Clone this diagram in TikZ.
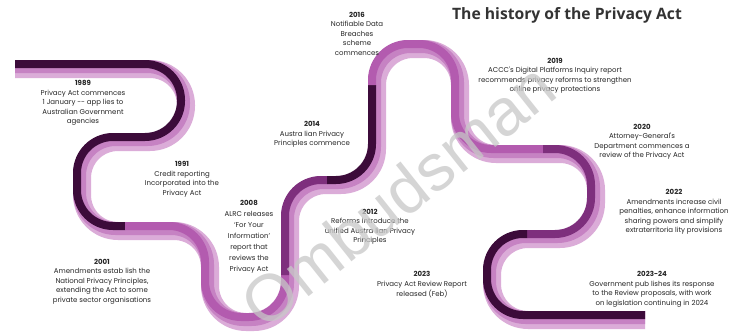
\documentclass[tikz,border=0pt]{standalone}
\usepackage{fontspec}
\newfontfamily\lblfont{Poppins}
\newfontfamily\titlefont{Open Sans}
\newfontfamily\wmfont{Liberation Sans}
\definecolor{ribdark}{HTML}{3C0B3A}
\definecolor{ribmed}{HTML}{7E2F7D}
\definecolor{ribpink}{HTML}{B35BAF}
\definecolor{ribmid}{HTML}{C682C3}
\definecolor{riblight}{HTML}{DBACD8}
\definecolor{txtgray}{HTML}{262626}
\definecolor{ttlgray}{HTML}{333333}
\def\fullpath{(10,69) -- (186,69) -- (186,142) -- (82,142) -- (82,231) -- (210,231) -- (210,322) -- (290,322) -- (290,185) -- (377,185) -- (377,49) -- (460,49) -- (460,154) -- (596,154) -- (596,239) -- (492,239) -- (492,320) -- (655,320)}
\def\segA{(10,69) -- (186,69) -- (186,142) -- (82,142) -- (82,231) -- (130,231)}
\def\segB{(130,231) -- (210,231) -- (210,322) -- (290,322) -- (290,280)}
\def\segC{(290,280) -- (290,185) -- (332,185)}
\def\segD{(332,185) -- (377,185) -- (377,90)}
\def\segE{(377,90) -- (377,49) -- (460,49) -- (460,154) -- (548,154)}
\def\segF{(548,154) -- (596,154) -- (596,239) -- (532,239)}
\def\segG{(532,239) -- (492,239) -- (492,320) -- (655,320)}
\newcommand\yr[1]{\textbf{#1}}
\begin{document}
\begin{tikzpicture}[x=1pt,y=-1pt,
  rib/.style={rounded corners=36pt, line cap=butt, line join=round},
  lbl/.style={align=center, text=txtgray, inner sep=0pt, font={\lblfont\fontsize{7}{9.5}\selectfont}},
  ttl/.style={text=ttlgray, inner sep=0pt, font={\titlefont\bfseries\fontsize{15.7}{18}\selectfont}},
  wm/.style={text=black!22, inner sep=0pt, opacity=0.75, font={\wmfont\fontsize{66}{70}\selectfont}}]
\useasboundingbox (0,0) rectangle (751,332);
\fill[white] (0,0) rectangle (751,332);
\begin{scope}
  \clip (15,0) rectangle (645,332);
  \draw[rib, line width=18pt, color=riblight] \fullpath;
  \begin{scope}[shift={(-2.5,-2.5)}]
    \draw[rib, line width=13pt, color=ribmid] \fullpath;
  \end{scope}
  \begin{scope}[shift={(-5,-5)}]
    \draw[rib, line width=8pt, color=ribdark] \segA;
    \draw[rib, line width=8pt, color=ribpink] \segB;
    \draw[rib, line width=8pt, color=ribmed] \segC;
    \draw[rib, line width=8pt, color=ribdark] \segD;
    \draw[rib, line width=8pt, color=ribpink] \segE;
    \draw[rib, line width=8pt, color=ribmed] \segF;
    \draw[rib, line width=8pt, color=ribdark] \segG;
  \end{scope}
\end{scope}
\node[ttl] (title) at (567,15) {The history of the Privacy Act};
\node[lbl] (t1989) at (83,103) {\yr{1989}\\Privacy Act commences\\1 January -- app lies to\\Australian Government\\agencies};
\node[lbl] (t1991) at (182,179.5) {\yr{1991}\\Credit reporting\\Incorporated into the\\Privacy Act};
\node[lbl] (t2001) at (102,281.5) {\yr{2001}\\Amendments estab lish the\\National Privacy Principles,\\extending the Act to some\\private sector organisations};
\node[lbl, font={\lblfont\fontsize{7}{11}\selectfont}] (t2008) at (249,237) {\yr{2008}\\ALRC releases\\‘For Your\\Information’\\report that\\reviews the\\Privacy Act};
\node[lbl] (t2012) at (370,227) {\yr{2012}\\Reforms introduce the\\unified Austra lian Privacy\\Principles};
\node[lbl] (t2014) at (312,134.5) {\yr{2014}\\Austra lian Privacy\\Principles commence};
\node[lbl] (t2016) at (357,33.5) {\yr{2016}\\Notifiable Data\\Breaches\\scheme\\commences};
\node[lbl] (t2019) at (555,76) {\yr{2019}\\ACCC's Digital Platforms Inquiry report\\recommends privacy reforms to strengthen\\online privacy protections};
\node[lbl] (t2020) at (642,142) {\yr{2020}\\Attorney-General's\\Department commences a\\review of the Privacy Act};
\node[lbl] (t2022) at (674,212) {\yr{2022}\\Amendments increase civil\\penalties, enhance information\\sharing powers and simplify\\extraterritoria lity provisions};
\node[lbl, font={\lblfont\fontsize{7}{10}\selectfont}] (t2023) at (422,285) {\yr{2023}\\Privacy Act Review Report\\released (Feb)};
\node[lbl] (t2324) at (652,289.5) {\yr{2023-24}\\Government pub lishes its response\\to the Review proposals, with work\\on legislation continuing in 2024};
\node[wm, rotate=38.5] (wmark) at (398,195) {Ombudsman};
\end{tikzpicture}
\end{document}
